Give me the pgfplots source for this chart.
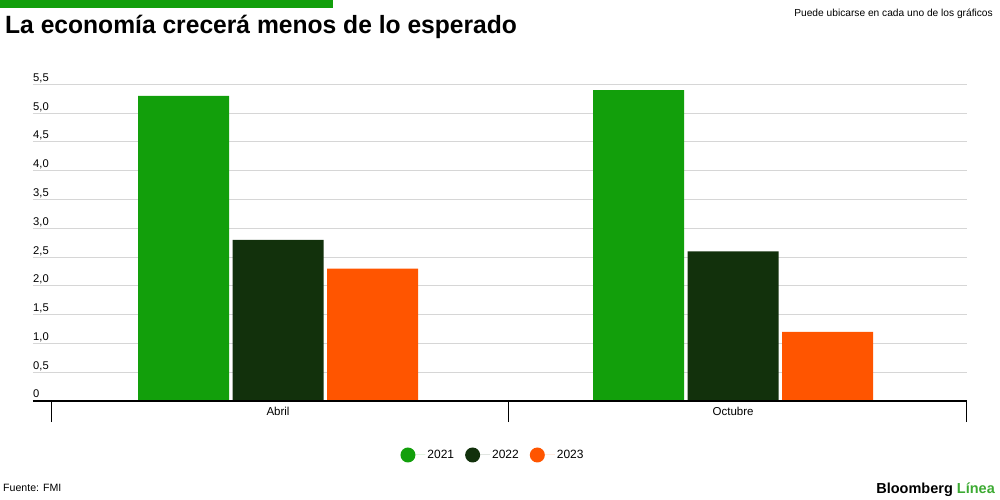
\documentclass[border=0pt]{standalone}
\usepackage{pgfplots}
\pgfplotsset{compat=1.18}
\usepackage{fontspec}
\setmainfont{Liberation Sans}
\definecolor{cG}{RGB}{18,159,11}
\definecolor{cD}{RGB}{18,49,12}
\definecolor{cO}{RGB}{255,85,0}
\definecolor{cGrid}{RGB}{214,214,214}
\definecolor{cL}{RGB}{60,170,50}
\begin{document}
\begin{tikzpicture}[x=1pt,y=1pt]
\useasboundingbox (0,0) rectangle (1000,500);
\fill[cG] (0,492) rectangle (333,500);
\node[anchor=base west, inner sep=0pt] at (5,466) {\scalebox{0.985}[1]{\fontsize{25}{30}\selectfont\bfseries La economía crecerá menos de lo esperado}};
\node[anchor=base east, inner sep=0pt] at (993,483) {\fontsize{10.2}{12}\selectfont Puede ubicarse en cada uno de los gráficos};
\node[anchor=base west, inner sep=0pt] at (3,9) {\fontsize{10.6}{12}\selectfont Fuente: FMI};
\node[anchor=base east, inner sep=0pt] at (995,6) {\fontsize{14.5}{16}\selectfont\bfseries Bloomberg \textcolor{cL}{Línea}};
\begin{axis}[
  at={(33pt,99pt)}, anchor=south west,
  scale only axis, width=934pt, height=316.7pt,
  xmin=-0.5385, xmax=1.514, ymin=0, ymax=5.5,
  clip=false,
  axis line style={draw=none},
  ybar=3.5pt, bar width=91pt,
  ytick={0,0.5,...,5.5},
  yticklabels={0,{0,5},{1,0},{1,5},{2,0},{2,5},{3,0},{3,5},{4,0},{4,5},{5,0},{5,5}},
  yticklabel style={anchor=base west, inner sep=0pt, xshift=21pt, yshift=3pt, font=\fontsize{11.2}{13}\selectfont},
  ytick style={draw=none},
  ymajorgrids=true, xmajorgrids=false,
  major grid style={cGrid, line width=1pt},
  xtick={-0.499,0.5055,1.512}, xticklabels={},
  xtick pos=left, tick align=outside, major tick length=21pt,
  xtick style={black, line width=0.9pt},
  extra x ticks={0,1}, extra x tick labels={Abril,Octubre},
  extra x tick style={major tick length=0pt, grid=none},
  xticklabel style={anchor=base, inner sep=0pt, yshift=-14pt, font=\fontsize{11.5}{13}\selectfont},
  legend style={draw=none, fill=none, legend columns=-1, at={(0.4925,-0.1705)}, anchor=center,
    font=\fontsize{12}{14}\selectfont,
    /tikz/every even column/.append style={column sep=9pt}},
]
\addplot[fill=cG, draw=none, legend image code/.code={\fill[cG] (0pt,0pt) circle (7.5pt); \path (7.5pt,0pt) -- (17.5pt,0pt);}] coordinates {(0,5.3) (1,5.4)};
\addplot[fill=cD, draw=none, legend image code/.code={\fill[cD] (0pt,0pt) circle (7.5pt); \path (7.5pt,0pt) -- (17.5pt,0pt);}] coordinates {(0,2.8) (1,2.6)};
\addplot[fill=cO, draw=none, legend image code/.code={\fill[cO] (0pt,0pt) circle (7.5pt); \path (7.5pt,0pt) -- (17.5pt,0pt);}] coordinates {(0,2.3) (1,1.2)};
\legend{2021,2022,2023}
\draw[black, line width=1.5pt] (axis cs:-0.5385,0) -- (axis cs:1.514,0);
\end{axis}
\end{tikzpicture}
\end{document}
